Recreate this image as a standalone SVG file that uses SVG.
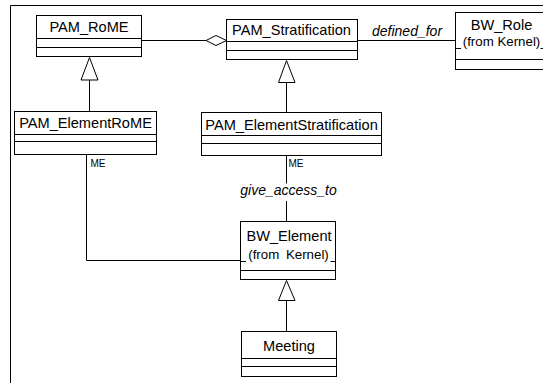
<svg xmlns="http://www.w3.org/2000/svg" width="543" height="383" viewBox="0 0 543 383">
<style>
.box{fill:#fff;stroke:#000;stroke-width:1}
.div{stroke:#000;stroke-width:1;fill:none}
.name{font-family:"Liberation Sans",Arial,sans-serif;font-size:14.6px;fill:#000;text-anchor:middle}
.from{font-family:"Liberation Sans",Arial,sans-serif;font-size:13.3px;fill:#000;text-anchor:middle}
.cover{fill:#fff;stroke:none}
.lbl{font-family:"Liberation Sans",Arial,sans-serif;font-size:14px;font-style:italic;fill:#000}
.role{font-family:"Liberation Sans",Arial,sans-serif;font-size:10px;fill:#000}
.edge{stroke:#000;stroke-width:1;fill:none}
.head{fill:#fff;stroke:#000;stroke-width:1}
</style>
<rect x="0" y="0" width="543" height="383" fill="#fff"/>
<path d="M10.5,383 V5.5 H543" class="edge"/>

<g id="connectors">
  <line x1="141.5" y1="40.5" x2="206" y2="40.5" class="edge"/>
  <polygon points="206,40.5 216,35.5 226.5,40.5 216,45.5" class="head"/>
  <line x1="357.5" y1="40.5" x2="455.5" y2="40.5" class="edge"/>
  <text x="372" y="36" class="lbl">defined_for</text>
  <line x1="89.5" y1="111.5" x2="89.5" y2="80" class="edge"/>
  <polygon points="89.5,57.5 81,80 98,80" class="head"/>
  <line x1="286.5" y1="112.5" x2="286.5" y2="82.5" class="edge"/>
  <polygon points="286.5,60.5 278.5,82.5 295,82.5" class="head"/>
  <line x1="286.5" y1="331.5" x2="286.5" y2="300.5" class="edge"/>
  <polygon points="286.5,280.5 278.5,300.5 295,300.5" class="head"/>
  <line x1="286.5" y1="155.5" x2="286.5" y2="183.5" class="edge"/>
  <line x1="286.5" y1="201" x2="286.5" y2="221.5" class="edge"/>
  <text x="288.5" y="194.5" class="lbl" text-anchor="middle">give_access_to</text>
  <text x="288.5" y="166.5" class="role">ME</text>
  <path d="M86.5,154.5 V260.5 H240.5" class="edge"/>
  <text x="90.5" y="166.5" class="role">ME</text>
</g>

<g id="PAM_RoME">
  <rect x="36.5" y="15.5" width="105" height="41" class="box"/>
  <line x1="36.5" y1="38.5" x2="141.5" y2="38.5" class="div"/>
  <line x1="36.5" y1="47.5" x2="141.5" y2="47.5" class="div"/>
  <text x="89" y="32" class="name">PAM_RoME</text>
</g>

<g id="PAM_Stratification">
  <rect x="226.5" y="19.5" width="131" height="40" class="box"/>
  <line x1="226.5" y1="41.5" x2="357.5" y2="41.5" class="div"/>
  <line x1="226.5" y1="50.5" x2="357.5" y2="50.5" class="div"/>
  <text x="291.5" y="35" class="name">PAM_Stratification</text>
</g>

<g id="BW_Role">
  <rect x="455.5" y="12.5" width="92" height="57" class="box"/>
  <line x1="455.5" y1="48.5" x2="547.5" y2="48.5" class="div"/>
  <line x1="455.5" y1="59.5" x2="547.5" y2="59.5" class="div"/>
  <text x="501.5" y="30" class="name">BW_Role</text>
  <rect x="461" y="34" width="79.5" height="15.5" class="cover"/>
  <text x="501.5" y="45.5" class="from">(from Kernel)</text>
</g>

<g id="PAM_ElementRoME">
  <rect x="14.5" y="111.5" width="142" height="43" class="box"/>
  <line x1="14.5" y1="134.5" x2="156.5" y2="134.5" class="div"/>
  <line x1="14.5" y1="141.5" x2="156.5" y2="141.5" class="div"/>
  <text x="85.5" y="128" class="name">PAM_ElementRoME</text>
</g>

<g id="PAM_ElementStratification">
  <rect x="201.5" y="112.5" width="180" height="43" class="box"/>
  <line x1="201.5" y1="135.5" x2="381.5" y2="135.5" class="div"/>
  <line x1="201.5" y1="143.5" x2="381.5" y2="143.5" class="div"/>
  <text x="291.5" y="129.5" class="name">PAM_ElementStratification</text>
</g>

<g id="BW_Element">
  <rect x="240.5" y="221.5" width="95" height="58" class="box"/>
  <line x1="240.5" y1="261.5" x2="335.5" y2="261.5" class="div"/>
  <line x1="240.5" y1="270.5" x2="335.5" y2="270.5" class="div"/>
  <text x="289" y="240.5" class="name">BW_Element</text>
  <rect x="246" y="247" width="84.5" height="16" class="cover"/>
  <text x="288.5" y="259" class="from" word-spacing="3">(from Kernel)</text>
</g>

<g id="Meeting">
  <rect x="241.5" y="331.5" width="95" height="45" class="box"/>
  <line x1="241.5" y1="358.5" x2="336.5" y2="358.5" class="div"/>
  <line x1="241.5" y1="366.5" x2="336.5" y2="366.5" class="div"/>
  <text x="289" y="351" class="name">Meeting</text>
</g>
</svg>
